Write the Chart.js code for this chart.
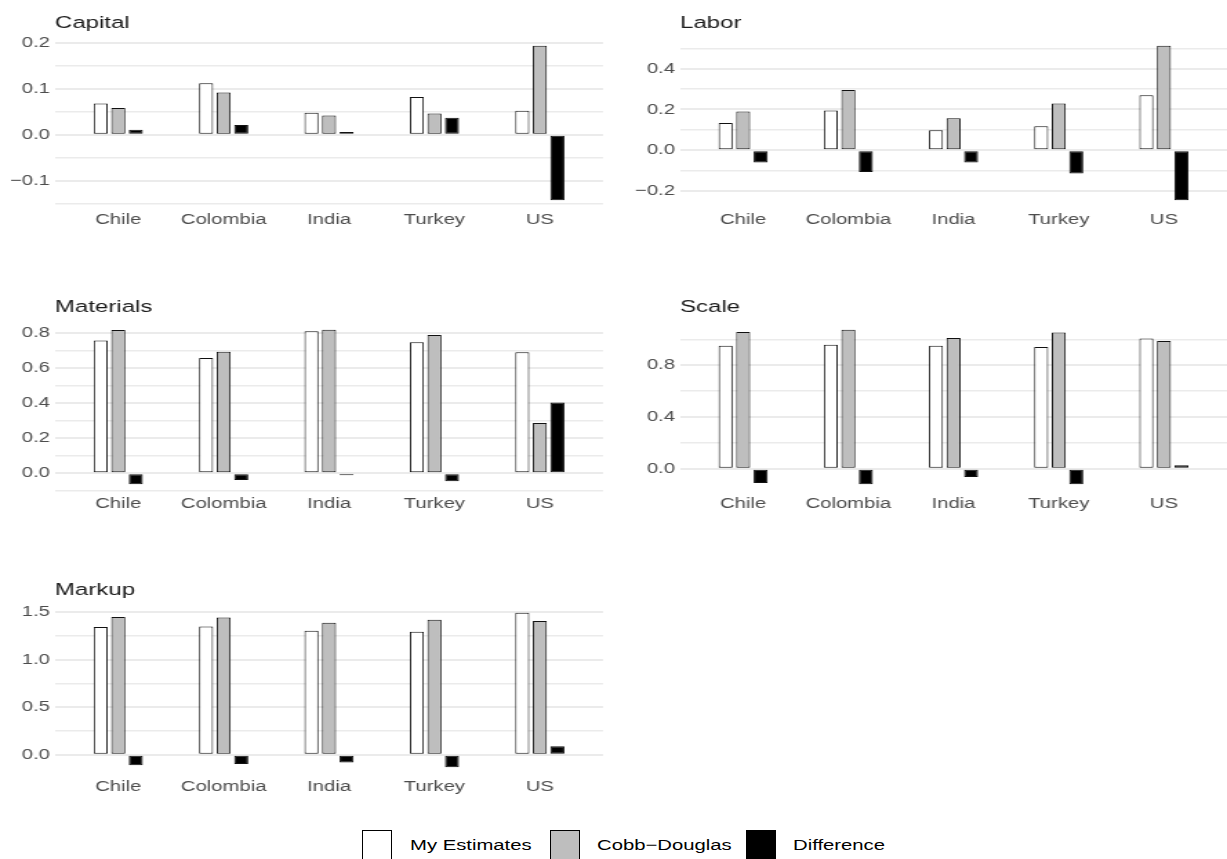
<!DOCTYPE html>
<html>
<head>
<meta charset="utf-8">
<script src="https://cdn.jsdelivr.net/npm/chart.js@4.4.1/dist/chart.umd.min.js"></script>
<style>
  html, body { margin: 0; padding: 0; background: #ffffff; }
  body { width: 1227px; height: 859px; position: relative; overflow: hidden; font-family: "Liberation Sans", Arial, sans-serif; }
  .panel { position: absolute; }
  .panel canvas { display: block; }
  .legend-box { position: absolute; width: 28px; height: 28px; border: 1px solid #000; box-sizing: content-box; }
  .legend-text { position: absolute; font-size: 14.7px; line-height: 18px; color: #000; white-space: nowrap; transform-origin: 0 0; }
</style>
</head>
<body>
<script>
// ---------------- DATA ----------------
const countries = ['Chile', 'Colombia', 'India', 'Turkey', 'US'];
const seriesNames = ['My Estimates', 'Cobb\u2212Douglas', 'Difference'];
const seriesColors = ['#FFFFFF', '#BEBEBE', '#000000'];

const capitalMine = [0.068, 0.112, 0.048, 0.082, 0.052];
const capitalCD   = [0.058, 0.092, 0.042, 0.046, 0.194];
const capitalDiff = [0.011, 0.021, 0.006, 0.037, -0.143];
const capitalTicks = [-0.1, 0.0, 0.1, 0.2];

const laborMine = [0.133, 0.195, 0.098, 0.118, 0.270];
const laborCD   = [0.190, 0.296, 0.157, 0.229, 0.513];
const laborDiff = [-0.061, -0.107, -0.061, -0.115, -0.246];
const laborTicks = [-0.2, 0.0, 0.2, 0.4];

const materialsMine = [0.758, 0.657, 0.811, 0.747, 0.691];
const materialsCD   = [0.817, 0.693, 0.819, 0.789, 0.287];
const materialsDiff = [-0.063, -0.038, -0.011, -0.046, 0.404];
const materialsTicks = [0.0, 0.2, 0.4, 0.6, 0.8];

const scaleMine = [0.952, 0.960, 0.952, 0.942, 1.008];
const scaleCD   = [1.058, 1.076, 1.011, 1.055, 0.988];
const scaleDiff = [-0.111, -0.121, -0.065, -0.121, 0.026];
const scaleTicks = [0.0, 0.4, 0.8];

const markupMine = [1.342, 1.349, 1.303, 1.293, 1.493];
const markupCD   = [1.448, 1.444, 1.388, 1.419, 1.405];
const markupDiff = [-0.112, -0.098, -0.084, -0.133, 0.088];
const markupTicks = [0.0, 0.5, 1.0, 1.5];

// ---------------- LAYOUT ----------------
const FONT = '"Liberation Sans", Arial, sans-serif';
const SX = 1.38; // the reference is stretched horizontally
const panels = [
  { title: 'Capital',   series: [capitalMine, capitalCD, capitalDiff],       ticks: capitalTicks,   col: 0, row: 0 },
  { title: 'Labor',     series: [laborMine, laborCD, laborDiff],             ticks: laborTicks,     col: 1, row: 0 },
  { title: 'Materials', series: [materialsMine, materialsCD, materialsDiff], ticks: materialsTicks, col: 0, row: 1 },
  { title: 'Scale',     series: [scaleMine, scaleCD, scaleDiff],             ticks: scaleTicks,     col: 1, row: 1 },
  { title: 'Markup',    series: [markupMine, markupCD, markupDiff],          ticks: markupTicks,    col: 0, row: 2 }
];
// page-pixel geometry of each column: canvas left, canvas internal width, plot left, plot right
const colGeom = [
  { pageLeft: 0,   innerW: 442, plotLeft: 55,  plotRight: 603 },
  { pageLeft: 610, innerW: 447, plotLeft: 680, plotRight: 1227 }
];
const rowTops = [0, 284, 567];
const CANVAS_H = 240, PAD_TOP = 38, XAXIS_H = 32;

function fmt(v) {
  const s = v.toFixed(1);
  return s.startsWith('-') ? '\u2212' + s.slice(1) : s;
}

const titlePlugin = {
  id: 'facetTitle',
  afterDraw(chart, args, opts) {
    const ctx = chart.ctx;
    ctx.save();
    ctx.font = '17.4px ' + FONT;
    ctx.fillStyle = '#1a1a1a';
    ctx.textAlign = 'left';
    ctx.textBaseline = 'alphabetic';
    ctx.fillText(opts.text, chart.chartArea.left, chart.chartArea.top - 10);
    ctx.restore();
  }
};

panels.forEach(p => {
  const g = colGeom[p.col];
  const axisW = (g.plotLeft - g.pageLeft) / SX;
  const padRight = Math.max(0, g.innerW - (g.plotRight - g.pageLeft) / SX);
  const div = document.createElement('div');
  div.className = 'panel';
  div.style.left = g.pageLeft + 'px';
  div.style.top = rowTops[p.row] + 'px';
  const canvas = document.createElement('canvas');
  canvas.width = g.innerW; canvas.height = CANVAS_H;
  canvas.style.width = (g.innerW * SX) + 'px';
  canvas.style.height = CANVAS_H + 'px';
  div.appendChild(canvas);
  document.body.appendChild(div);

  // ggplot-like 5% expansion of the data range (including the 0 baseline)
  const all = p.series.flat().concat([0]);
  const lo = Math.min(...all), hi = Math.max(...all);
  const ext = (hi - lo) * 0.05;
  const yMin = lo - ext, yMax = hi + ext;
  const step = p.ticks[1] - p.ticks[0];
  const gridVals = [];
  for (let i = 0; i < p.ticks.length; i++) {
    gridVals.push(p.ticks[i]);
    if (i < p.ticks.length - 1) gridVals.push((p.ticks[i] + p.ticks[i + 1]) / 2);
  }
  const below = p.ticks[0] - step / 2, above = p.ticks[p.ticks.length - 1] + step / 2;
  if (below >= yMin) gridVals.unshift(below);
  if (above <= yMax) gridVals.push(above);
  const isMajor = v => p.ticks.some(t => Math.abs(t - v) < 1e-9);

  new Chart(canvas, {
    type: 'bar',
    data: {
      datasets: p.series.map((vals, si) => ({
        label: seriesNames[si],
        data: vals.map((v, i) => ({ x: i, y: v })),
        backgroundColor: seriesColors[si],
        borderColor: '#111111',
        borderWidth: 1,
        borderSkipped: false
      }))
    },
    options: {
      responsive: false,
      animation: false,
      devicePixelRatio: 1,
      categoryPercentage: 0.5,
      barPercentage: 0.8,
      layout: { padding: { top: PAD_TOP, right: padRight, left: 0, bottom: 0 } },
      plugins: {
        legend: { display: false },
        tooltip: { enabled: false },
        facetTitle: { text: p.title }
      },
      scales: {
        x: {
          type: 'linear',
          min: -0.6, max: 4.6,
          offset: false,
          grid: { display: false, drawTicks: false },
          border: { display: false },
          afterBuildTicks: s => { s.ticks = countries.map((c, i) => ({ value: i })); },
          afterFit: s => { s.height = XAXIS_H; },
          ticks: {
            autoSkip: false, maxRotation: 0, minRotation: 0, padding: 3,
            color: '#4D4D4D',
            font: { family: FONT, size: 14.7 },
            callback: v => countries[Math.round(v)]
          }
        },
        y: {
          type: 'linear',
          min: yMin, max: yMax,
          grid: {
            color: '#EBEBEB',
            lineWidth: c => (c.tick && isMajor(c.tick.value)) ? 2 : 1.4,
            drawTicks: false
          },
          border: { display: false },
          afterBuildTicks: s => { s.ticks = gridVals.map(v => ({ value: v })); },
          afterFit: s => { s.width = axisW; },
          ticks: {
            autoSkip: false,
            padding: 5 / SX,
            color: '#4D4D4D',
            font: { family: FONT, size: 14.7 },
            callback: v => isMajor(v) ? fmt(v) : ''
          }
        }
      }
    },
    plugins: [titlePlugin]
  });
});

// ---------------- LEGEND (HTML) ----------------
const legendBoxLeft = [362, 550, 746];
const legendTextLeft = [410, 597, 793];
seriesNames.forEach((name, i) => {
  const b = document.createElement('div');
  b.className = 'legend-box';
  b.style.left = legendBoxLeft[i] + 'px';
  b.style.top = '830px';
  b.style.background = seriesColors[i];
  document.body.appendChild(b);
  const t = document.createElement('div');
  t.className = 'legend-text';
  t.style.left = legendTextLeft[i] + 'px';
  t.style.top = '836px';
  t.style.transform = 'scaleX(' + SX + ')';
  t.textContent = name;
  document.body.appendChild(t);
});
</script>
</body>
</html>
